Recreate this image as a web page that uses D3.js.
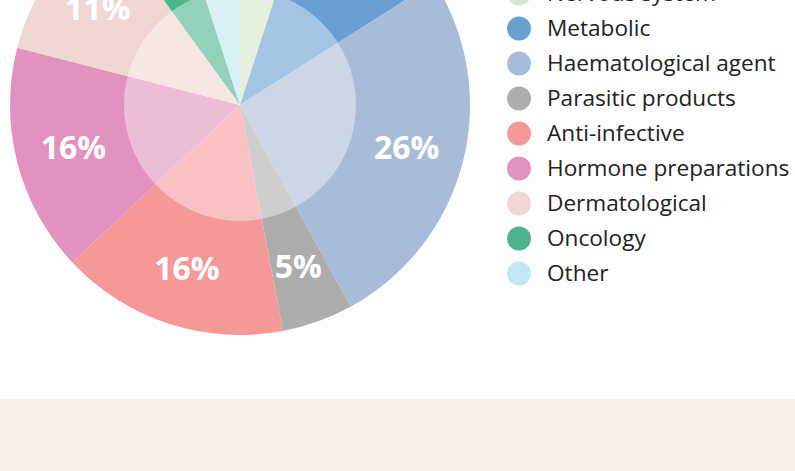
<!DOCTYPE html>
<html>
<head>
<meta charset="utf-8">
<script src="https://cdn.jsdelivr.net/npm/d3@7"></script>
<style>
  html, body { margin: 0; padding: 0; background: #fdfdfd; overflow: hidden; }
  svg { display: block; }
  .slice_label { font-family: "Open Sans", sans-serif; font-weight: 700; fill: #fff; }
  .legend_text { font-family: "Open Sans", sans-serif; fill: #222; }
</style>
</head>
<body>
<script>
// data (clockwise from 12 o'clock)
var categories = ["Nervous system", "Metabolic", "Haematological agent", "Parasitic products",
                  "Anti-infective", "Hormone preparations", "Dermatological", "Oncology", "Other"];
var shares = [5, 11, 26, 5, 16, 16, 11, 5, 5];
var colours = ["#d3e8c6", "#6a9fd3", "#a9bcd7", "#adadad", "#f59898",
               "#e292bf", "#f1d7d4", "#4db38c", "#c2e6f2"];

var width = 795, height = 471;
var cx = 240, cy = 105, radius = 230, innerR = 116, labelR = 172;

var data = categories.map(function(c, i) { return {name: c, value: shares[i], colour: colours[i]}; });

var svg = d3.select("body").append("svg")
    .attr("width", width)
    .attr("height", height);

// pink band at the bottom of the page
svg.append("rect")
    .attr("x", 0).attr("y", 399)
    .attr("width", width).attr("height", height - 399)
    .attr("fill", "#fbede7");

var pie = d3.pie().sort(null).value(function(d) { return d.value; });
var arc = d3.arc().innerRadius(0).outerRadius(radius);
var labelArc = d3.arc().innerRadius(labelR).outerRadius(labelR);

var g = svg.append("g").attr("transform", "translate(" + cx + "," + cy + ")");

var arcs = pie(data);

g.selectAll(".slice")
    .data(arcs)
    .enter().append("path")
    .attr("class", "slice")
    .attr("d", arc)
    .attr("fill", function(d) { return d.data.colour; });

// lighter inner disc
g.append("circle")
    .attr("r", innerR)
    .attr("fill", "#fff")
    .attr("fill-opacity", 0.4);

g.selectAll(".slice_label")
    .data(arcs)
    .enter().append("text")
    .attr("class", "slice_label")
    .attr("transform", function(d) { return "translate(" + labelArc.centroid(d) + ")"; })
    .attr("text-anchor", "middle")
    .attr("dy", "0.36em")
    .style("font-size", "32px")
    .text(function(d) { return d.data.value + "%"; });

// legend
var legendY = d3.scaleBand().domain(categories).range([-24, 291]);
var legend = svg.selectAll(".legend")
    .data(data)
    .enter().append("g")
    .attr("class", "legend")
    .attr("transform", function(d) { return "translate(519," + (legendY(d.name) + legendY.bandwidth() / 2) + ")"; });

legend.append("circle")
    .attr("r", 12)
    .attr("fill", function(d) { return d.colour; });

legend.append("text")
    .attr("class", "legend_text")
    .attr("x", 28)
    .attr("dy", "0.35em")
    .style("font-size", "22.6px")
    .text(function(d) { return d.name; });
</script>
</body>
</html>
